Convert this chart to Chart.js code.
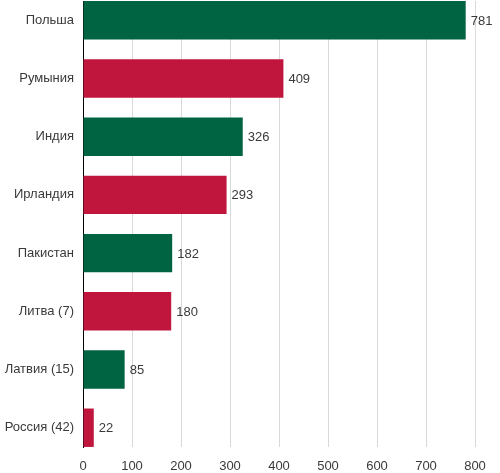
<!DOCTYPE html>
<html>
<head>
<meta charset="utf-8">
<script src="https://cdn.jsdelivr.net/npm/chart.js@4"></script>
<style>
    body { margin: 0; background: #fff; }
    #wrap { width: 500px; height: 473px; position: relative; }
</style>
</head>
<body>
<div id="wrap"><canvas id="chart"></canvas></div>
<script>
// Chart data
const categories = ['Польша', 'Румыния', 'Индия', 'Ирландия', 'Пакистан', 'Литва (7)', 'Латвия (15)', 'Россия (42)'];
const values = [781, 409, 326, 293, 182, 180, 85, 22];
const xTicks = [0, 100, 200, 300, 400, 500, 600, 700, 800];

const green = '#006342';
const crimson = '#c0163e';
const barColors = categories.map((c, i) => i % 2 === 0 ? green : crimson);
const fontFamily = '"Liberation Sans", Arial, sans-serif';
const textColor = '#3a3a3a';

// Value labels at the end of each bar
const valueLabels = {
    id: 'valueLabels',
    afterDatasetsDraw(chart) {
        const ctx = chart.ctx;
        const meta = chart.getDatasetMeta(0);
        ctx.save();
        ctx.font = '13px ' + fontFamily;
        ctx.fillStyle = textColor;
        ctx.textAlign = 'left';
        ctx.textBaseline = 'middle';
        meta.data.forEach((bar, i) => {
            ctx.fillText(values[i], bar.x + 5, bar.y + 1);
        });
        ctx.restore();
    }
};

// half a bar, in category units, so the outer bars touch the plot edges
const half = 0.331;

new Chart(document.getElementById('chart'), {
    type: 'bar',
    data: {
        datasets: [{
            data: values.map((v, i) => ({ x: v, y: i })),
            backgroundColor: barColors,
            borderWidth: 0,
            categoryPercentage: 0.66,
            barPercentage: 1
        }]
    },
    options: {
        indexAxis: 'y',
        responsive: true,
        maintainAspectRatio: false,
        animation: false,
        layout: { padding: { top: 1, right: 25, left: 0, bottom: 0 } },
        plugins: {
            legend: { display: false },
            tooltip: { enabled: false }
        },
        scales: {
            x: {
                type: 'linear',
                min: xTicks[0],
                max: xTicks[xTicks.length - 1],
                afterBuildTicks: scale => { scale.ticks = xTicks.map(v => ({ value: v })); },
                grid: { color: '#d9d9d9', drawTicks: false, lineWidth: 1 },
                border: { display: false },
                ticks: {
                    color: textColor,
                    padding: 12,
                    font: { size: 13, family: fontFamily }
                },
                afterFit: scale => { scale.height = 26; }
            },
            y: {
                type: 'linear',
                reverse: true,
                offset: false,
                min: -half,
                max: categories.length - 1 + half,
                afterBuildTicks: scale => { scale.ticks = categories.map((c, i) => ({ value: i })); },
                grid: { display: false, drawTicks: false, offset: false },
                border: { display: true, color: '#000', width: 1 },
                ticks: {
                    autoSkip: false,
                    color: textColor,
                    padding: 9,
                    font: { size: 13, family: fontFamily },
                    callback: v => categories[v]
                },
                afterFit: scale => {
                    scale.width = 83;
                    scale.paddingTop = 0;
                    scale.paddingBottom = 0;
                }
            }
        }
    },
    plugins: [valueLabels]
});
</script>
</body>
</html>
